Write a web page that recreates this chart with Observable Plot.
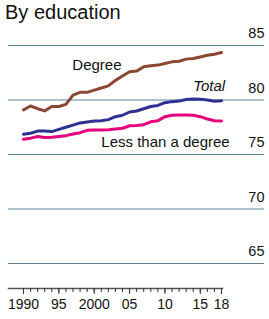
<!DOCTYPE html>
<html>
<head>
<meta charset="utf-8">
<script src="https://cdn.jsdelivr.net/npm/d3@7"></script>
<script src="https://cdn.jsdelivr.net/npm/@observablehq/plot@0.6"></script>
<style>
  body { margin: 0; background: #fff; width: 269px; height: 319px; overflow: hidden; }
  #title { font-family: "Liberation Sans", Arial, sans-serif; font-size: 20px; line-height: 22px; padding: 1px 0 0 5px; height: 22px; color: #111; }
  svg { display: block; }
</style>
</head>
<body>
<div id="title">By education</div>
<div id="chart"></div>
<script>
const years = [1990,1991,1992,1993,1994,1995,1996,1997,1998,1999,2000,2001,2002,2003,2004,2005,2006,2007,2008,2009,2010,2011,2012,2013,2014,2015,2016,2017,2018];
const degree = [79.1,79.45,79.2,79.0,79.4,79.4,79.6,80.45,80.7,80.7,80.9,81.1,81.3,81.8,82.2,82.6,82.65,83.05,83.15,83.2,83.35,83.5,83.55,83.75,83.8,83.95,84.1,84.2,84.35];
const total = [76.85,76.95,77.15,77.15,77.1,77.3,77.5,77.7,77.9,77.98,78.07,78.1,78.2,78.47,78.6,78.9,78.99,79.2,79.4,79.5,79.75,79.85,79.9,80.05,80.1,80.08,80.0,79.88,79.93];
const lessThan = [76.4,76.5,76.65,76.55,76.58,76.65,76.73,76.88,77.0,77.22,77.25,77.25,77.28,77.34,77.4,77.64,77.67,77.74,78.0,78.1,78.47,78.6,78.62,78.62,78.6,78.47,78.26,78.1,78.07];
const seriesNames = ["Degree", "Total", "Less than a degree"];
const seriesColors = ["#8c4733", "#2e3192", "#e6007e"];
const yTicks = [65, 70, 75, 80, 85];
const xLabelYears = [1990, 1995, 2000, 2005, 2010, 2015, 2018];
const xTickLabels = ["1990", "95", "2000", "05", "10", "15", "18"];
const labelYear = [1996.9, 2014.0, 2001.0];
const labelValue = [83.2, 81.24, 76.1];

const rows = [];
[degree, total, lessThan].forEach((vals, s) => {
  years.forEach((yr, i) => rows.push({series: seriesNames[s], year: yr, value: vals[i]}));
});
const labels = seriesNames.map((n, i) => ({series: n, year: labelYear[i], value: labelValue[i]}));
const labelMap = new Map(xLabelYears.map((y, i) => [y, xTickLabels[i]]));

const font = '"Liberation Sans", Arial, sans-serif';
const chart = Plot.plot({
  width: 269,
  height: 296,
  marginLeft: 8,
  marginRight: 5,
  marginTop: 10,
  marginBottom: 31,
  style: {fontFamily: font, background: "#fff", color: "#111"},
  x: {domain: [1990, 2018], range: [23, 221]},
  y: {domain: [65, 85], range: [240, 22]},
  color: {domain: seriesNames, range: seriesColors},
  marks: [
    Plot.gridY(yTicks, {stroke: "#5d8299", strokeOpacity: 1, strokeWidth: 1.2}),
    Plot.axisY(yTicks, {anchor: "right", tickSize: 0, tickPadding: 0, textAnchor: "end", dy: -12, fontSize: 14.5, label: null, fill: "#111"}),
    Plot.frame({anchor: "bottom", insetRight: 42, insetLeft: 0, stroke: "#555", strokeWidth: 1.5}),
    Plot.axisX(years, {tickSize: 4, tickFormat: () => "", label: null, stroke: "#333"}),
    Plot.axisX(xLabelYears, {tickSize: 6, tickPadding: 5, tickFormat: d => labelMap.get(d), label: null, fontSize: 14, fontFamily: '"Liberation Sans Narrow", "Liberation Sans", Arial, sans-serif', fill: "#111", stroke: "#333"}),
    Plot.line(rows, {x: "year", y: "value", z: "series", stroke: "series", strokeWidth: 3, strokeLinejoin: "round"}),
    Plot.text(labels.filter(d => d.series !== "Total"), {x: "year", y: "value", text: "series", textAnchor: "start", lineAnchor: "middle", fontSize: 15, fill: "#111"}),
    Plot.text(labels.filter(d => d.series === "Total"), {x: "year", y: "value", text: "series", textAnchor: "start", lineAnchor: "middle", fontSize: 15, fontStyle: "italic", fill: "#111"})
  ]
});
document.getElementById("chart").appendChild(chart);
</script>
</body>
</html>
